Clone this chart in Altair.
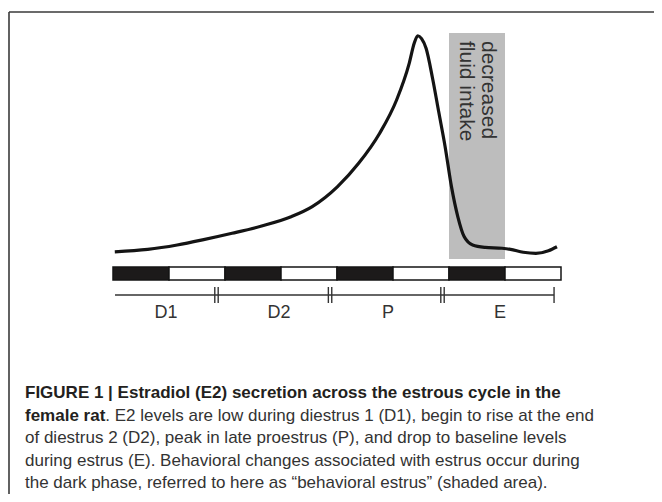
import altair as alt
import pandas as pd

# ---------------- data ----------------
# Estradiol curve: time across the 4-day cycle (days) vs relative E2 level
curve_day = [0.016, 0.310, 0.573, 0.799, 1.063, 1.327, 1.590, 1.779, 2.005, 2.193,
             2.381, 2.532, 2.646, 2.690, 2.721, 2.755, 2.796, 2.853, 2.909, 2.965,
             3.022, 3.079, 3.135, 3.211, 3.323, 3.474, 3.549, 3.663, 3.776, 3.888, 3.964]
curve_level = [0.1, 1.2, 3.2, 5.5, 8.5, 11.8, 16.0, 20.6, 29.7, 40.3,
               54.0, 69.1, 86.0, 95.0, 98.3, 97.0, 92.5, 79.0, 63.5, 48.0,
               29.7, 16.0, 7.0, 3.2, 2.1, 1.7, 1.2, -0.1, -0.6, 0.6, 2.4]

# light/dark bar: half-day blocks, starting with dark
bar_start = [0.0, 0.5, 1.0, 1.5, 2.0, 2.5, 3.0, 3.5]
bar_end = [0.5, 1.0, 1.5, 2.0, 2.5, 3.0, 3.5, 4.0]
bar_phase = ["dark", "light", "dark", "light", "dark", "light", "dark", "light"]

# cycle stages
stage_labels = ["D1", "D2", "P", "E"]
stage_label_day = [0.473, 1.482, 2.455, 3.455]
stage_edges = [0.018, 0.924, 1.938, 2.942, 3.938]

# behavioral estrus (shaded)
shade_start = [3.0]
shade_end = [3.5]
shade_text = ["decreased", "fluid intake"]

caption_bold_1 = "FIGURE 1 | Estradiol (E2) secretion across the estrous cycle in the"
caption_bold_2 = "female rat"
caption_rest_2 = ". E2 levels are low during diestrus 1 (D1), begin to rise at the end"
caption_lines = [
    "of diestrus 2 (D2), peak in late proestrus (P), and drop to baseline levels",
    "during estrus (E). Behavioral changes associated with estrus occur during",
    "the dark phase, referred to here as \u201cbehavioral estrus\u201d (shaded area).",
]

# ---------------- layout ----------------
W, H = 646, 486
FONT = "Liberation Sans, Arial, Helvetica, sans-serif"
xs = alt.Scale(domain=[-105 / 112, (W - 105) / 112], nice=False, zero=False)
ys = alt.Scale(domain=[-110, 244 / 2.2], nice=False, zero=False)


def X(field):
    return alt.X(field, type="quantitative", scale=xs, axis=None)


def Y(field):
    return alt.Y(field, type="quantitative", scale=ys, axis=None)


curve_df = pd.DataFrame({"day": curve_day, "level": curve_level})
bar_df = pd.DataFrame({"start": bar_start, "end": bar_end, "phase": bar_phase})
shade_df = pd.DataFrame({"start": shade_start, "end": shade_end})
edges_df = pd.DataFrame({"day": stage_edges[1:-1]})
end_df = pd.DataFrame({"day": [stage_edges[-1]]})
line_df = pd.DataFrame({"start": [stage_edges[0]], "end": [stage_edges[-1]]})
label_df = pd.DataFrame({"day": stage_label_day, "label": stage_labels})

one = pd.DataFrame({"a": [0]})

frame_top = alt.Chart(one).mark_rule(color="#3a3a3a", strokeWidth=1.6).encode(
    x=alt.value(1), x2=alt.value(W), y=alt.value(4))
frame_left = alt.Chart(one).mark_rule(color="#3a3a3a", strokeWidth=1.6).encode(
    x=alt.value(1), y=alt.value(4), y2=alt.value(H))

shade = alt.Chart(shade_df).mark_rect(color="#bdbdbd").encode(
    x=X("start"), x2="end", y=alt.value(25), y2=alt.value(251))

shade_lbl = []
for i, t in enumerate(shade_text):
    shade_lbl.append(
        alt.Chart(pd.DataFrame({"t": [t]})).mark_text(
            angle=90, align="left", baseline="middle", font=FONT, fontSize=21,
            color="#333333").encode(
            x=alt.value(480 - 22 * i), y=alt.value(33), text="t:N"))

curve = alt.Chart(curve_df).mark_line(
    color="#141414", strokeWidth=3.2, interpolate="monotone").encode(
    x=X("day"), y=Y("level"))

bar = alt.Chart(bar_df).mark_rect(stroke="#141414", strokeWidth=1.5).encode(
    x=X("start"), x2="end", y=alt.value(259), y2=alt.value(272),
    fill=alt.Fill("phase:N", scale=alt.Scale(domain=["dark", "light"],
                                             range=["#1c1a1a", "#ffffff"]), legend=None))

LY = 287
stage_line = alt.Chart(line_df).mark_rule(color="#333333", strokeWidth=1.4).encode(
    x=X("start"), x2="end", y=alt.value(LY))
ticks_a = alt.Chart(edges_df).mark_rule(color="#333333", strokeWidth=1.4, xOffset=-1.7).encode(
    x=X("day"), y=alt.value(LY - 8), y2=alt.value(LY + 8))
ticks_b = alt.Chart(edges_df).mark_rule(color="#333333", strokeWidth=1.4, xOffset=1.7).encode(
    x=X("day"), y=alt.value(LY - 8), y2=alt.value(LY + 8))
tick_end = alt.Chart(end_df).mark_rule(color="#333333", strokeWidth=1.4).encode(
    x=X("day"), y=alt.value(LY - 8), y2=alt.value(LY + 8))
labels = alt.Chart(label_df).mark_text(
    font=FONT, fontSize=18, color="#333333", baseline="alphabetic").encode(
    x=X("day"), y=alt.value(LY + 23), text="label:N")

CX = 17
B0 = 390
LH = 22.5
cap = []
cap.append(alt.Chart(pd.DataFrame({"t": [caption_bold_1]})).mark_text(
    font=FONT, fontSize=17, fontWeight="bold", color="#231f20", align="left",
    baseline="alphabetic").encode(x=alt.value(CX), y=alt.value(B0), text="t:N"))
cap.append(alt.Chart(pd.DataFrame({"t": [caption_bold_2]})).mark_text(
    font=FONT, fontSize=17, fontWeight="bold", color="#231f20", align="left",
    baseline="alphabetic").encode(x=alt.value(CX), y=alt.value(B0 + LH), text="t:N"))
cap.append(alt.Chart(pd.DataFrame({"t": [caption_rest_2]})).mark_text(
    font=FONT, fontSize=17, color="#333333", align="left",
    baseline="alphabetic").encode(x=alt.value(CX + 80.3), y=alt.value(B0 + LH), text="t:N"))
for i, line in enumerate(caption_lines):
    cap.append(alt.Chart(pd.DataFrame({"t": [line]})).mark_text(
        font=FONT, fontSize=17, color="#333333", align="left",
        baseline="alphabetic").encode(x=alt.value(CX), y=alt.value(B0 + LH * (i + 2)), text="t:N"))

chart = alt.layer(
    frame_top, frame_left, shade, *shade_lbl, curve, bar,
    stage_line, ticks_a, ticks_b, tick_end, labels, *cap
).properties(
    width=W, height=H, padding=0,
    autosize=alt.AutoSizeParams(type="none"),
).configure_view(stroke=None)

chart.save("out.html", embed_options={"renderer": "svg", "actions": False})
